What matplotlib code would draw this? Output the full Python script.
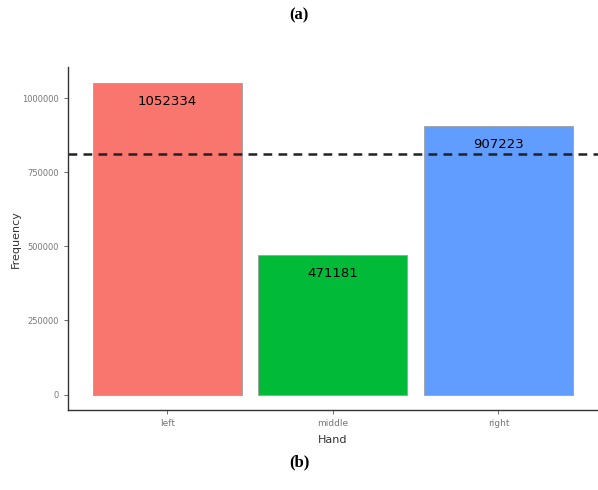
import numpy as np
import matplotlib.pyplot as plt

hands = ['left', 'middle', 'right']
counts = [1052334, 471181, 907223]
colors = ['#F8766D', '#00BA38', '#619CFF']
yticks = [0, 250000, 500000, 750000, 1000000]

mean_count = np.mean(counts)

fig = plt.figure(figsize=(5.98, 4.9), dpi=100)
ax = fig.add_axes([0.1137, 0.163, 0.886, 0.70])

x = np.arange(1, len(hands) + 1)
ax.bar(x, counts, width=0.9, color=colors, edgecolor='#a0a0a0', linewidth=0.6)
for xi, c in zip(x, counts):
    ax.annotate(str(c), (xi, c), xytext=(0, -9), textcoords='offset points',
                ha='center', va='top', fontsize=9.5, color='black')

ax.axhline(mean_count, color='#222222', linestyle=(0, (3.5, 2.5)), linewidth=1.8)

ymax = max(counts) * 1.05
ax.set_xlim(0.4, 3.6)
ax.set_ylim(-max(counts) * 0.05, ymax)
ax.set_xticks(x)
ax.set_xticklabels(hands)
ax.set_yticks(yticks)
ax.set_yticklabels([str(v) for v in yticks])
ax.tick_params(labelsize=6, colors='#555555', length=3, width=0.6)
ax.tick_params(axis='x', labelcolor='#777777', labelsize=6.5)
ax.tick_params(axis='y', labelcolor='#777777')

for s in ['top', 'right']:
    ax.spines[s].set_visible(False)
for s in ['left', 'bottom']:
    ax.spines[s].set_color('#333333')
    ax.spines[s].set_linewidth(1.0)

ax.set_xlabel('Hand', fontsize=8, color='#333333', labelpad=5)
ax.set_ylabel('Frequency', fontsize=8, color='#333333', labelpad=1)

fig.text(0.5, 0.968, '(a)', ha='center', va='center', fontsize=12,
         fontweight='bold', family='Liberation Serif')
fig.text(0.5, 0.057, '(b)', ha='center', va='center', fontsize=12,
         fontweight='bold', family='Liberation Serif')

fig.savefig('out.png', dpi=100)
